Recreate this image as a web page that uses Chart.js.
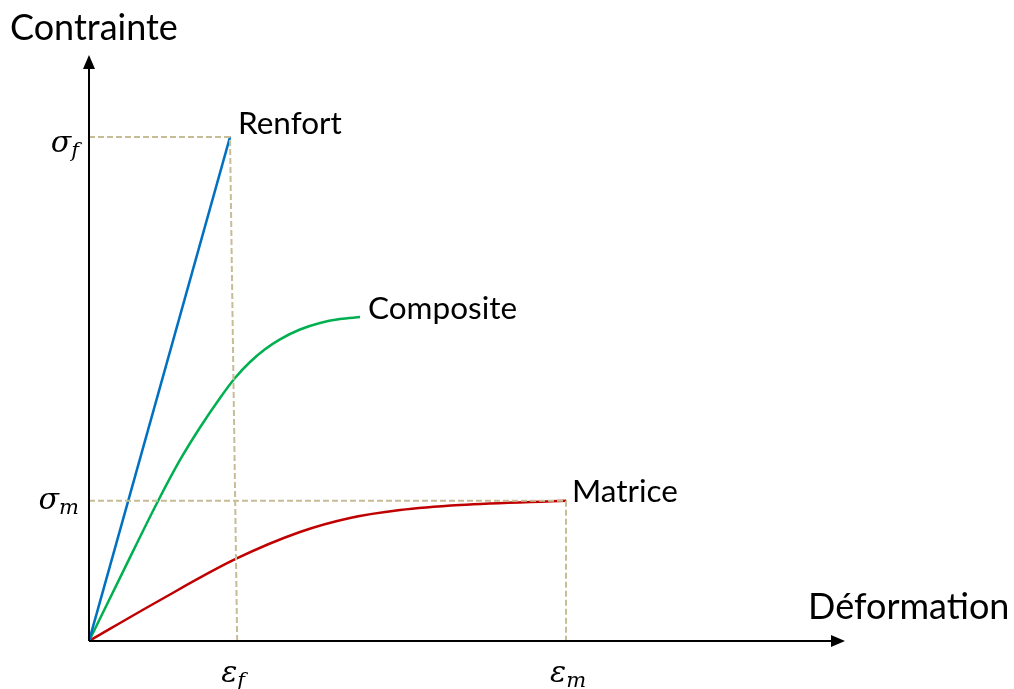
<!DOCTYPE html>
<html>
<head>
<meta charset="utf-8">
<script src="https://cdn.jsdelivr.net/npm/chart.js@4/dist/chart.umd.min.js"></script>
<style>
html, body { margin: 0; padding: 0; background: #fff; }
canvas { display: block; }
</style>
</head>
<body>
<canvas id="chart" width="1014" height="689"></canvas>
<script>
// ---------- Data (arbitrary units, both axes 0..100) ----------

const renfortX = [0, 18.65];
const renfortY = [0, 86.0];

const compositeX = [0, 4.63, 9.13, 12.04, 14.68, 17.33, 19.31, 21.30, 23.28, 25.26, 27.91, 30.56, 33.20, 35.85];
const compositeY = [0, 12.18, 23.89, 30.89, 36.43, 41.47, 44.88, 47.61, 49.78, 51.48, 53.16, 54.27, 54.93, 55.27];

const matriceX = [0, 8.96, 19.54, 27.91, 34.52, 41.14, 49.07, 63.1];
const matriceY = [0, 6.66, 14.08, 18.6, 20.99, 22.35, 23.21, 23.94];

// guide lines (sigma_f / eps_f corner, sigma_m / eps_m corner)
const guideFX = [0, 18.65, 19.6];
const guideFY = [86.0, 86.0, 0];
const guideMX = [0, 63.1, 63.1];
const guideMY = [23.94, 23.94, 0];

// tick labels
const xTickValues = [19.6, 63.1];
const xTickSymbols = ['ε', 'ε'];
const xTickSubs = ['f', 'm'];
const yTickValues = [86.0, 23.94];
const yTickSymbols = ['σ', 'σ'];
const yTickSubs = ['f', 'm'];

const seriesNames = ['Renfort', 'Composite', 'Matrice'];
const seriesColors = ['#0070C0', '#00B050', '#C00000'];

const xTitle = 'Déformation';
const yTitle = 'Contrainte';

// ---------- Helpers ----------

function toPoints(xs, ys) {
    return xs.map((x, i) => ({ x: x, y: ys[i] }));
}

function curve(label, xs, ys, color) {
    return {
        label: label,
        data: toPoints(xs, ys),
        borderColor: color,
        borderWidth: 2.5,
        pointRadius: 0,
        cubicInterpolationMode: 'monotone',
        showLine: true,
        fill: false
    };
}

function guide(xs, ys) {
    return {
        label: 'guide',
        data: toPoints(xs, ys),
        borderColor: '#C6BD97',
        borderWidth: 2,
        borderDash: [6, 3],
        pointRadius: 0,
        tension: 0,
        showLine: true,
        fill: false
    };
}

const MATH_BIG = 'italic 30px "DejaVu Serif"';
const MATH_SUB = 'italic 21px "DejaVu Serif"';

function mathLabel(ctx, sym, sub, x, y, align) {
    ctx.font = MATH_BIG;
    const w1 = ctx.measureText(sym).width;
    ctx.font = MATH_SUB;
    const w2 = ctx.measureText(sub).width;
    const left = align === 'right' ? x - w1 - w2 : x;
    ctx.textAlign = 'left';
    ctx.textBaseline = 'alphabetic';
    ctx.font = MATH_BIG;
    ctx.fillText(sym, left, y);
    ctx.font = MATH_SUB;
    ctx.fillText(sub, left + w1, y + 5);
}

// ---------- Axes, arrows and texts ----------

const decorPlugin = {
    id: 'decor',
    afterDatasetsDraw(chart) {
        const ctx = chart.ctx;
        const xs = chart.scales.x;
        const ys = chart.scales.y;
        const area = chart.chartArea;
        const ox = xs.getPixelForValue(0);
        const oy = ys.getPixelForValue(0);

        ctx.save();
        ctx.strokeStyle = '#000';
        ctx.fillStyle = '#000';
        ctx.lineWidth = 2;

        // x axis
        ctx.beginPath();
        ctx.moveTo(ox, oy);
        ctx.lineTo(area.right - 12, oy);
        ctx.stroke();
        ctx.beginPath();
        ctx.moveTo(area.right, oy);
        ctx.lineTo(area.right - 14, oy - 6);
        ctx.lineTo(area.right - 14, oy + 6);
        ctx.closePath();
        ctx.fill();

        // y axis
        ctx.beginPath();
        ctx.moveTo(ox, oy);
        ctx.lineTo(ox, area.top + 12);
        ctx.stroke();
        ctx.beginPath();
        ctx.moveTo(ox, area.top);
        ctx.lineTo(ox - 6, area.top + 14);
        ctx.lineTo(ox + 6, area.top + 14);
        ctx.closePath();
        ctx.fill();

        // axis titles
        ctx.textBaseline = 'middle';
        ctx.textAlign = 'left';
        ctx.font = '36px Lato';
        ctx.fillText(yTitle, 10, 28);
        ctx.fillText(xTitle, 808, 607);

        // curve labels, next to the end of each curve
        const ends = [
            [renfortX, renfortY, 8, -13],
            [compositeX, compositeY, 8, -8],
            [matriceX, matriceY, 6, -9]
        ];
        ctx.font = '31.5px Lato';
        ends.forEach((e, i) => {
            const n = e[0].length - 1;
            const px = xs.getPixelForValue(e[0][n]);
            const py = ys.getPixelForValue(e[1][n]);
            ctx.fillText(seriesNames[i], px + e[2], py + e[3]);
        });

        // tick labels
        xTickValues.forEach((v, i) => {
            mathLabel(ctx, xTickSymbols[i], xTickSubs[i], xs.getPixelForValue(v) - 16, oy + 41, 'left');
        });
        const yOffsets = [15, 8];
        yTickValues.forEach((v, i) => {
            mathLabel(ctx, yTickSymbols[i], yTickSubs[i], ox - 10, ys.getPixelForValue(v) + yOffsets[i], 'right');
        });

        ctx.restore();
    }
};

// ---------- Chart ----------

new Chart(document.getElementById('chart'), {
    type: 'scatter',
    data: {
        datasets: [
            guide(guideFX, guideFY),
            guide(guideMX, guideMY),
            curve(seriesNames[0], renfortX, renfortY, seriesColors[0]),
            curve(seriesNames[1], compositeX, compositeY, seriesColors[1]),
            curve(seriesNames[2], matriceX, matriceY, seriesColors[2])
        ]
    },
    options: {
        responsive: false,
        animation: false,
        layout: { padding: { left: 89, top: 55, right: 169, bottom: 48 } },
        scales: {
            x: { type: 'linear', min: 0, max: 100, display: false },
            y: { type: 'linear', min: 0, max: 100, display: false }
        },
        plugins: {
            legend: { display: false },
            tooltip: { enabled: false }
        }
    },
    plugins: [decorPlugin]
});
</script>
</body>
</html>
